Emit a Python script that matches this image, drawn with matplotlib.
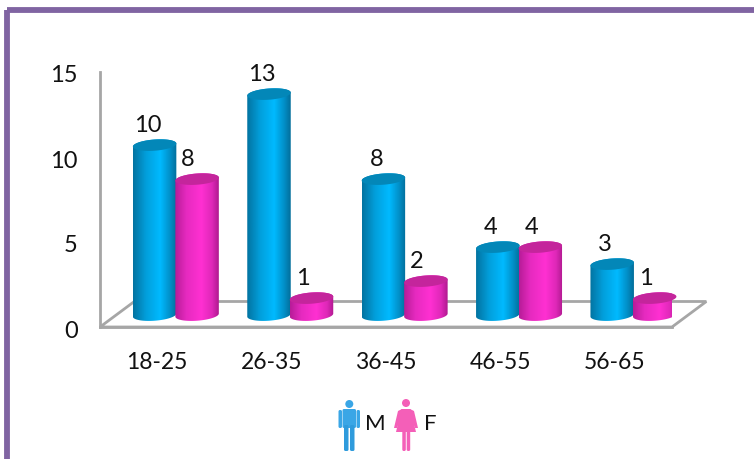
import numpy as np
import matplotlib
matplotlib.use("Agg")
import matplotlib.pyplot as plt
from matplotlib.colors import LinearSegmentedColormap
from matplotlib.patches import Circle, Polygon, Rectangle, FancyBboxPatch
from matplotlib.transforms import ScaledTranslation

plt.rcParams['font.family'] = ['Lato', 'DejaVu Sans']

# Age groups and counts per gender
age_groups = ['18-25', '26-35', '36-45', '46-55', '56-65']
male = [10, 13, 8, 4, 3]
female = [8, 1, 2, 4, 1]

W, H = 754, 459
fig = plt.figure(figsize=(W / 100, H / 100), dpi=100, facecolor='white')
ax = fig.add_axes([100 / W, (H - 327) / H, 572 / W, 255 / H])
ax.set_xlim(-0.5, 4.5)
ax.set_ylim(0, 15)
ax.patch.set_alpha(0)

GRAY = '#a6a6a6'
TEXT = '#111111'
for side in ['top', 'right']:
    ax.spines[side].set_visible(False)
for side in ['left', 'bottom']:
    ax.spines[side].set_color(GRAY)
    ax.spines[side].set_linewidth(2)
ax.set_xticks(range(len(age_groups)))
ax.set_xticklabels(age_groups, fontsize=16.5)
ax.set_yticks([0, 5, 10, 15])
ax.tick_params(axis='x', length=0, pad=18, labelcolor=TEXT)
ax.tick_params(axis='y', length=0, pad=16, labelsize=17, labelcolor=TEXT)
# nudge the value labels down a little
nudge = ScaledTranslation(0, -2 / 100, fig.dpi_scale_trans)
for lab in ax.get_yticklabels():
    lab.set_transform(lab.get_transform() + nudge)

# Floor of the 3D box
depth_x, depth_y = 0.3, 1.5
ax.add_patch(Polygon([(-0.5, 0), (-0.5 + depth_x, depth_y), (4.5 + depth_x, depth_y), (4.5, 0)],
                     closed=True, fill=False, edgecolor=GRAY, lw=2, clip_on=False, zorder=1))

# Cylinder shape, in data units
bar_half = 0.19
ell_h = 0.33
tilt = -0.09
shift_x, shift_y = 0.163, 0.7
pair_gap = 0.3715

blue_map = LinearSegmentedColormap.from_list(
    'blue', [(0, '#0274a2'), (0.3, '#029fdc'), (0.62, '#00baff'), (0.85, '#0290c8'), (1, '#026f9c')])
pink_map = LinearSegmentedColormap.from_list(
    'pink', [(0, '#b81c98'), (0.25, '#e52abf'), (0.6, '#ff30d2'), (0.85, '#df28b8'), (1, '#b01a90')])
BLUE_TOP = '#0387b8'
PINK_TOP = '#c4259c'


def cylinder(cx, value, cmap, top_color, z):
    x0 = cx + shift_x
    base = shift_y
    top = value + shift_y
    t = np.linspace(0, np.pi, 40)
    # lower rim of the base, left to right
    xs_low = x0 - bar_half * np.cos(t)
    ys_low = base - ell_h * np.sin(t) + tilt * np.cos(t)
    # upper edge follows the cap, right to left
    xs_up = x0 + bar_half * np.cos(t)
    ys_up = top + ell_h * np.sin(t) - tilt * np.cos(t)
    body = Polygon(np.column_stack([np.r_[xs_low, xs_up], np.r_[ys_low, ys_up]]),
                   closed=True, fc='none', ec='none', clip_on=False, zorder=z)
    ax.add_patch(body)
    grad = np.linspace(0, 1, 64).reshape(1, -1)
    im = ax.imshow(grad, cmap=cmap, aspect='auto', zorder=z, clip_on=True,
                   extent=[x0 - bar_half, x0 + bar_half, base - ell_h - 0.1, top + ell_h + 0.1])
    im.set_clip_path(body)
    # cap
    s = np.linspace(0, 2 * np.pi, 80)
    cap = np.column_stack([x0 + bar_half * np.cos(s),
                           top + ell_h * np.sin(s) - tilt * np.cos(s)])
    ax.add_patch(Polygon(cap, closed=True, fc=top_color, ec='none', clip_on=False, zorder=z + 0.1))


for i in range(len(age_groups)):
    cylinder(i - pair_gap / 2, male[i], blue_map, BLUE_TOP, 3)
    cylinder(i + pair_gap / 2, female[i], pink_map, PINK_TOP, 4)
    ax.annotate(str(male[i]), (i - pair_gap / 2 + shift_x, male[i] + shift_y), xytext=(-5, 14),
                textcoords='offset points', ha='center', va='center', fontsize=17,
                color=TEXT, zorder=6, annotation_clip=False)
    ax.annotate(str(female[i]), (i + pair_gap / 2 + shift_x, female[i] + shift_y), xytext=(-6.5, 14),
                textcoords='offset points', ha='center', va='center', fontsize=17,
                color=TEXT, zorder=6, annotation_clip=False)
ax.set_xlim(-0.5, 4.5)
ax.set_ylim(0, 15)

# Overlay in pixel units for the frame and the legend icons
ov = fig.add_axes([0, 0, 1, 1], zorder=10)
ov.set_xlim(0, W)
ov.set_ylim(H, 0)
ov.axis('off')
ov.patch.set_alpha(0)

PURPLE = '#8064a2'
ov.add_patch(Rectangle((7, 9.5), W, H, fill=False, edgecolor=PURPLE, lw=4.2, joinstyle='round'))

MAN = '#3aa6e6'
WOMAN = '#f45fb8'


def limb(x, y, w, h, color):
    ov.add_patch(FancyBboxPatch((x, y), w, h, boxstyle='round,pad=0,rounding_size=1.5',
                                fc=color, ec='none'))


# Man icon
ov.add_patch(Circle((349.3, 404), 4, fc=MAN, ec='none'))
limb(342.5, 409, 13.5, 19, MAN)
limb(338.5, 410, 3.5, 18, MAN)
limb(356.5, 410, 3.5, 18, MAN)
limb(344, 425, 4.5, 26, '#2f9bdc')
limb(350, 425, 4.5, 26, '#2f9bdc')

# Woman icon
ov.add_patch(Circle((406, 403), 4, fc=WOMAN, ec='none'))
ov.add_patch(Polygon([(401.5, 409), (410.5, 409), (416, 432), (396, 432)], closed=True, fc=WOMAN, ec='none'))
ov.add_patch(Polygon([(402, 409), (398, 411), (394, 428), (397, 428), (402, 415)], closed=True, fc=WOMAN, ec='none'))
ov.add_patch(Polygon([(410, 409), (414, 411), (418, 428), (415, 428), (410, 415)], closed=True, fc=WOMAN, ec='none'))
limb(402.3, 430, 3.5, 21, WOMAN)
limb(406.7, 430, 3.5, 21, WOMAN)

ov.text(375, 424, 'M', fontsize=16, ha='center', va='center', color=TEXT)
ov.text(430.5, 424, 'F', fontsize=16, ha='center', va='center', color=TEXT)

fig.savefig('out.png', dpi=100)
